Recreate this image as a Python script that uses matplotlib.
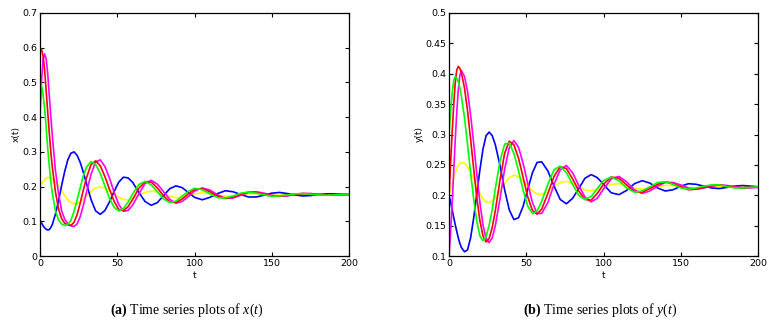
import matplotlib
matplotlib.use("Agg")
import matplotlib.pyplot as plt

# time samples shared by all series
t = [0, 1, 2, 3, 4, 5, 6, 7, 8, 10, 12, 14, 16, 18, 20, 22, 24, 26, 28, 30,
     33, 36, 39, 42, 45, 48, 51, 54, 57, 60, 64, 68, 72, 76, 80, 84, 88, 92, 96, 100,
     105, 110, 115, 120, 125, 130, 135, 140, 145, 150, 155, 160, 165, 170, 175, 180,
     185, 190, 195, 200]

# (a) x(t)
x_red = [.600, .595, .575, .535, .475, .415, .355, .300, .255, .185, .135, .108, .094, .089, .088, .097, .119, .152, .189, .224,
         .263, .274, .260, .229, .192, .157, .134, .131, .142, .163, .195, .214, .213, .196, .173, .156, .154, .164, .179, .192,
         .194, .185, .172, .166, .170, .178, .184, .183, .178, .173, .172, .175, .178, .180, .179, .177, .175, .176, .177, .177]
x_green = [.500, .490, .465, .425, .370, .310, .260, .215, .180, .130, .104, .092, .088, .090, .103, .128, .161, .196, .230, .255,
           .272, .264, .238, .202, .166, .140, .130, .137, .155, .179, .206, .215, .205, .185, .164, .154, .158, .172, .186, .195,
           .191, .179, .168, .167, .173, .181, .184, .181, .176, .172, .173, .176, .179, .180, .178, .176, .175, .176, .177, .177]
x_magenta = [.400, .505, .565, .582, .568, .525, .463, .403, .345, .246, .180, .130, .106, .093, .087, .085, .092, .113, .145, .182,
             .235, .271, .277, .258, .224, .183, .148, .129, .131, .147, .179, .209, .218, .207, .185, .163, .152, .157, .171, .187,
             .196, .190, .176, .166, .167, .175, .183, .185, .181, .175, .172, .173, .177, .180, .180, .178, .176, .175, .176, .177]
x_blue = [.104, .095, .087, .081, .077, .075, .076, .082, .091, .121, .159, .203, .244, .277, .296, .300, .290, .270, .242, .210,
          .163, .130, .120, .131, .156, .186, .213, .227, .225, .212, .183, .157, .146, .154, .174, .194, .202, .197, .183, .169,
          .162, .169, .180, .188, .185, .177, .170, .170, .175, .181, .183, .180, .176, .173, .174, .177, .179, .179, .178, .177]
x_yellow = [.200, .208, .215, .220, .224, .226, .226, .225, .222, .214, .202, .188, .174, .162, .154, .150, .151, .156, .164, .172,
            .186, .196, .199, .196, .188, .178, .169, .163, .162, .166, .175, .183, .187, .185, .178, .172, .168, .169, .174, .179,
            .182, .180, .176, .172, .173, .176, .179, .180, .178, .176, .175, .176, .177, .178, .178, .177, .177, .177, .177, .177]

# (b) y(t)
y_red = [.200, .250, .301, .347, .384, .406, .412, .409, .402, .377, .339, .292, .243, .196, .158, .133, .123, .129, .147, .175,
         .225, .269, .289, .283, .261, .229, .197, .175, .169, .177, .203, .231, .247, .244, .227, .207, .193, .192, .203, .218,
         .230, .228, .217, .206, .205, .211, .218, .222, .219, .214, .209, .210, .213, .216, .217, .215, .213, .212, .213, .214]
y_green = [.300, .336, .367, .388, .395, .393, .387, .377, .363, .328, .284, .237, .193, .157, .133, .125, .132, .151, .177, .211,
           .256, .284, .286, .269, .240, .208, .182, .170, .174, .190, .218, .242, .248, .237, .218, .200, .193, .198, .211, .224,
           .230, .224, .212, .205, .207, .214, .221, .222, .218, .212, .210, .212, .215, .217, .217, .214, .212, .212, .213, .214]
y_magenta = [.100, .137, .184, .237, .289, .336, .373, .397, .405, .396, .371, .332, .285, .235, .188, .151, .129, .122, .130, .150,
             .194, .243, .278, .290, .279, .252, .219, .188, .170, .170, .188, .218, .242, .249, .237, .216, .197, .189, .195, .210,
             .227, .231, .222, .209, .203, .207, .215, .221, .221, .217, .212, .210, .212, .215, .217, .216, .214, .212, .212, .213]
y_blue = [.200, .189, .177, .164, .152, .141, .130, .121, .114, .107, .110, .130, .163, .202, .242, .276, .298, .304, .298, .283,
          .249, .209, .176, .160, .163, .182, .210, .237, .254, .255, .240, .215, .193, .186, .195, .211, .228, .234, .229, .218,
          .204, .201, .208, .219, .224, .220, .212, .207, .209, .215, .219, .218, .215, .212, .211, .213, .215, .216, .215, .214]
y_yellow = [.200, .210, .220, .229, .236, .244, .249, .252, .254, .253, .247, .238, .226, .214, .203, .194, .189, .188, .191, .196,
            .207, .219, .229, .233, .231, .224, .215, .207, .202, .201, .207, .215, .221, .223, .220, .214, .209, .207, .209, .213,
            .218, .219, .216, .212, .210, .211, .214, .216, .216, .214, .212, .212, .213, .214, .214, .215, .214, .214, .214, .214]

x_ticks = [0, 50, 100, 150, 200]
xa_yticks = [0, 0.1, 0.2, 0.3, 0.4, 0.5, 0.6, 0.7]
xa_ylabels = ["0", "0.1", "0.2", "0.3", "0.4", "0.5", "0.6", "0.7"]
yb_yticks = [0.1, 0.15, 0.2, 0.25, 0.3, 0.35, 0.4, 0.45, 0.5]
yb_ylabels = ["0.1", "0.15", "0.2", "0.25", "0.3", "0.35", "0.4", "0.45", "0.5"]

plt.rcParams["mathtext.fontset"] = "custom"
plt.rcParams["mathtext.rm"] = "Liberation Serif"
plt.rcParams["mathtext.it"] = "Liberation Serif:italic"
plt.rcParams["mathtext.bf"] = "Liberation Serif:bold"

fig = plt.figure(figsize=(7.78, 3.28), dpi=100)
ax1 = fig.add_axes([40 / 778, 72 / 328, 309 / 778, 243 / 328])
ax2 = fig.add_axes([449 / 778, 72 / 328, 309 / 778, 243 / 328])


def draw(ax, red, green, magenta, blue, yellow, yticks, ylabels, ylim, ylab):
    ax.plot(t, yellow, color="#ffff00", lw=1.2)
    ax.plot(t, blue, color="#0000ff", lw=1.2)
    ax.plot(t, magenta, color="#ff00ff", lw=1.2)
    ax.plot(t, red, color="#ff0000", lw=1.2)
    ax.plot(t, green, color="#00ff00", lw=1.2)
    ax.set_xlim(0, 200)
    ax.set_ylim(*ylim)
    ax.set_xticks(x_ticks)
    ax.set_xticklabels([str(v) for v in x_ticks])
    ax.set_yticks(yticks)
    ax.set_yticklabels(ylabels)
    ax.tick_params(direction="in", length=3, width=0.8, labelsize=6.8,
                   top=True, right=True, pad=2)
    for s in ax.spines.values():
        s.set_linewidth(0.9)
    ax.set_xlabel("t", fontsize=6.5, labelpad=2)
    ax.set_ylabel(ylab, fontsize=6.5, labelpad=1)


draw(ax1, x_red, x_green, x_magenta, x_blue, x_yellow, xa_yticks, xa_ylabels, (0, 0.7), "x(t)")
draw(ax2, y_red, y_green, y_magenta, y_blue, y_yellow, yb_yticks, yb_ylabels, (0.1, 0.5), "y(t)")

fig.text(187 / 778, 1 - 310 / 328, r"$\mathbf{(a)}$ Time series plots of $x(t)$",
         family="Liberation Serif", fontsize=10, ha="center", va="center")
fig.text(600 / 778, 1 - 310 / 328, r"$\mathbf{(b)}$ Time series plots of $y(t)$",
         family="Liberation Serif", fontsize=10, ha="center", va="center")

fig.savefig("out.png", dpi=100)
